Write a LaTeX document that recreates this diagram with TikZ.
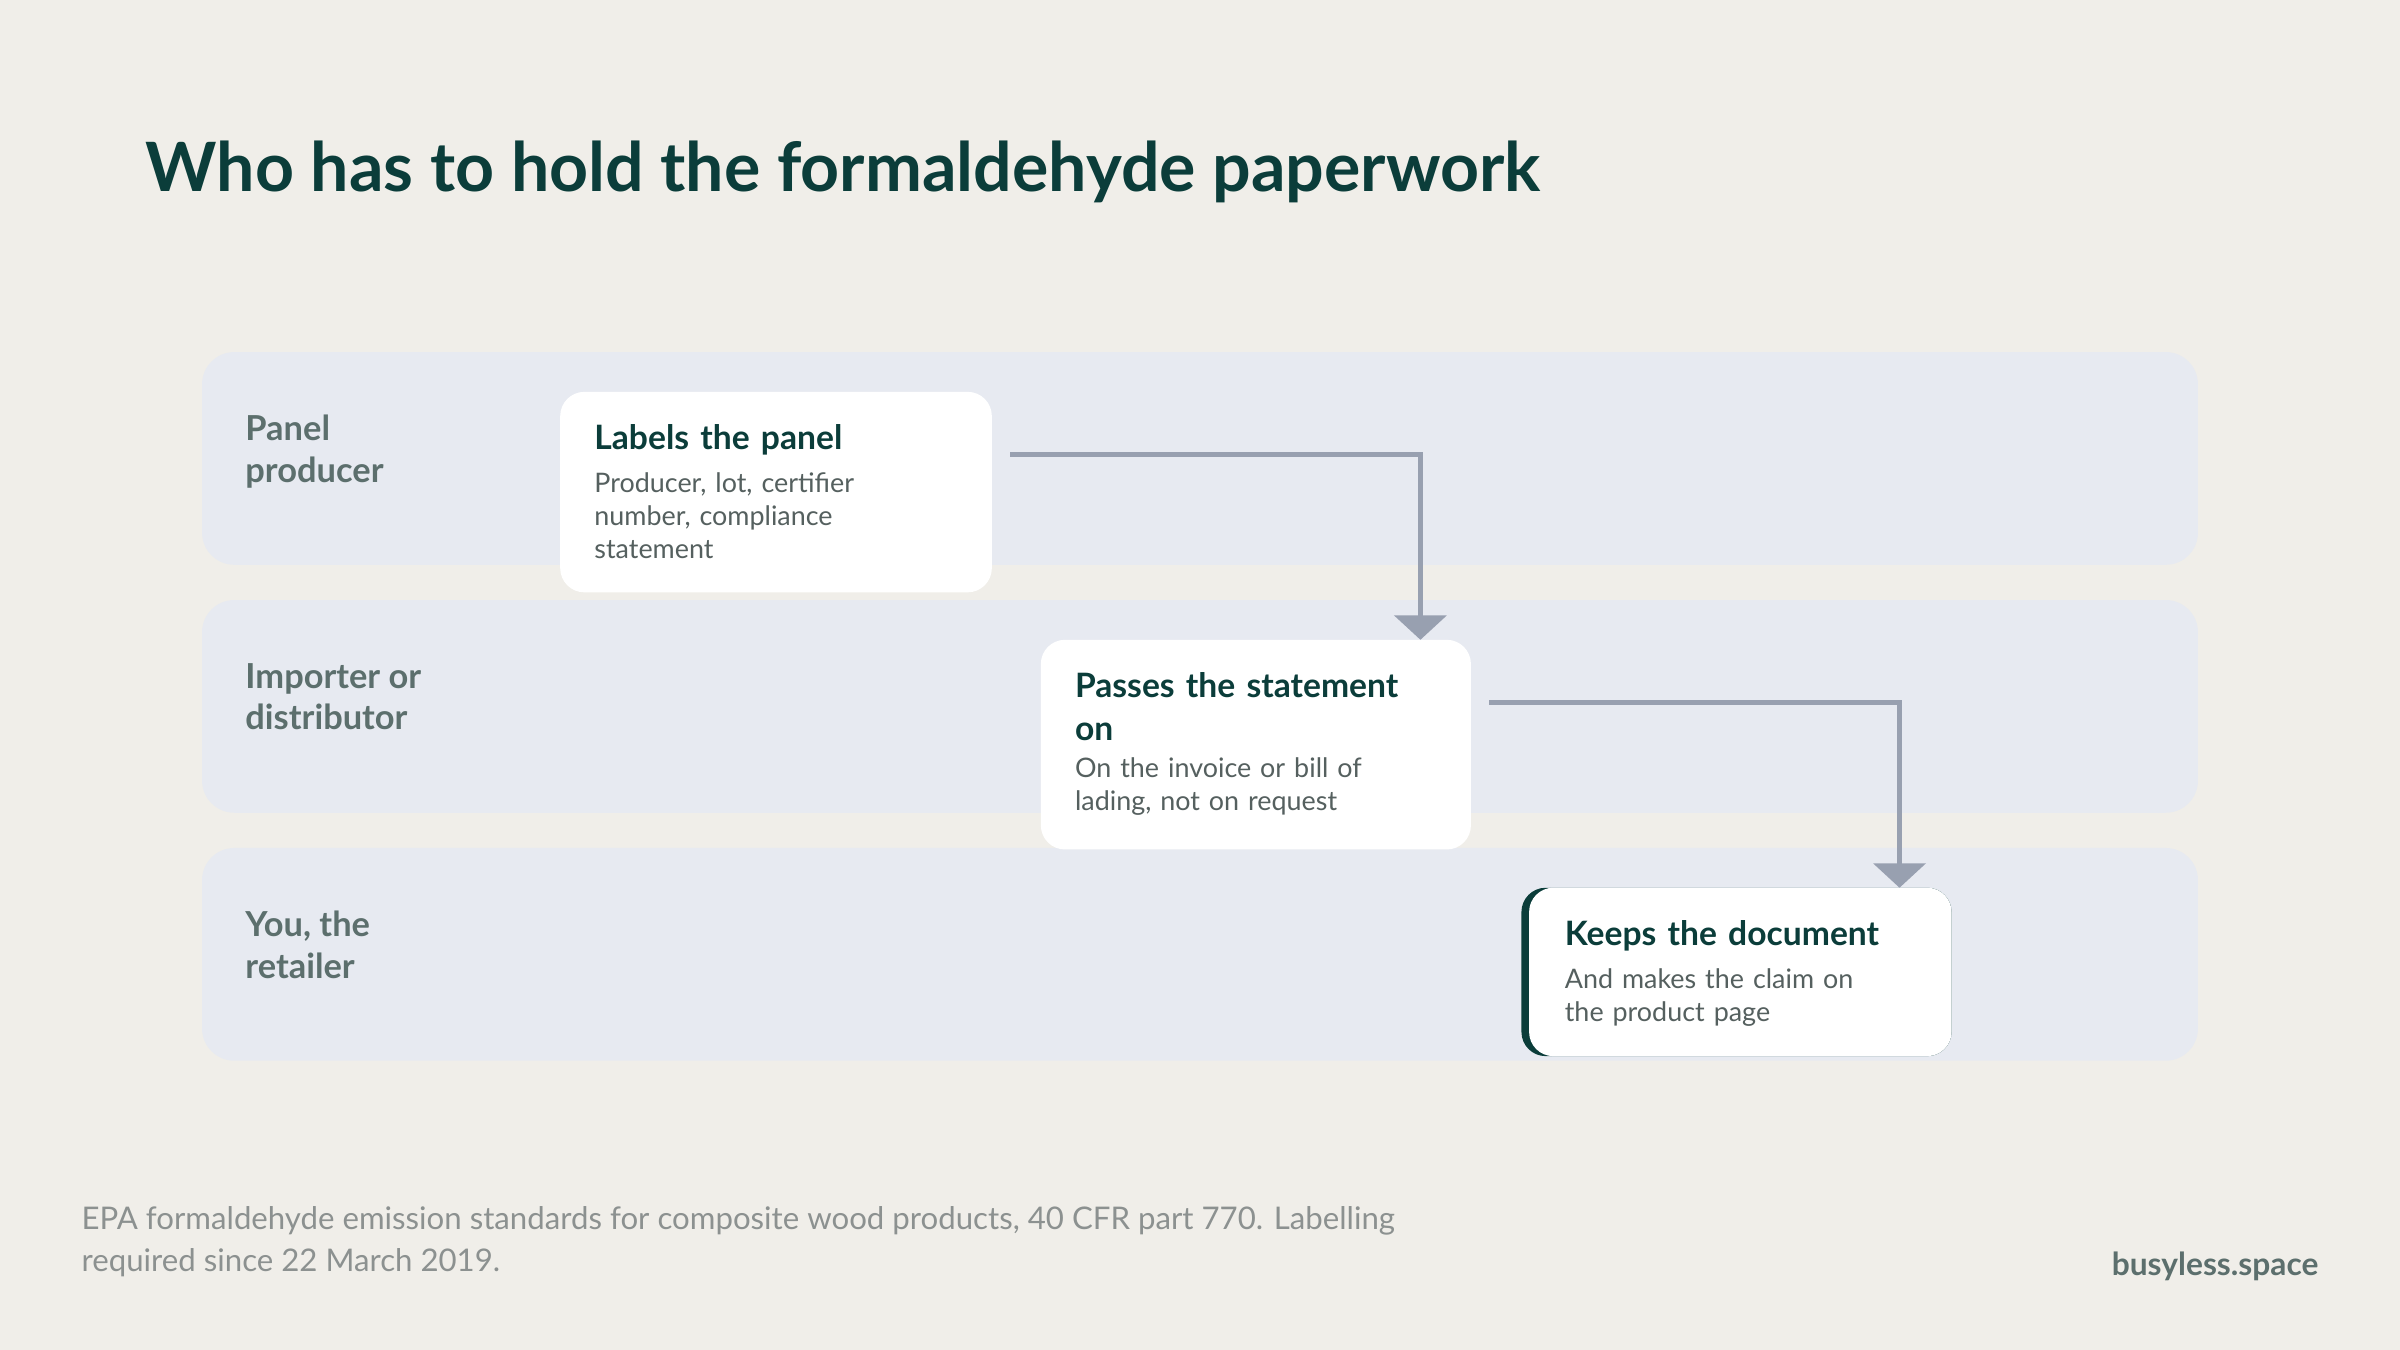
\documentclass[tikz,border=0pt]{standalone}
\usepackage{fontspec}
\setmainfont{Lato}
\usetikzlibrary{arrows.meta,positioning}
\definecolor{bg}{HTML}{F0EEE9}
\definecolor{lane}{HTML}{E7EAF1}
\definecolor{ink}{HTML}{0B3D3A}
\definecolor{lanetxt}{HTML}{5C6F6D}
\definecolor{body}{HTML}{55605F}
\definecolor{flowc}{HTML}{98A0B0}
\definecolor{foot}{HTML}{8C9190}
\begin{document}
\hyphenpenalty=10000
\begin{tikzpicture}[x=0.02cm,y=-0.02cm,
  lanebox/.style={fill=lane,rounded corners=12pt},
  lanelab/.style={anchor=north west,align=left,text=lanetxt,font=\fontsize{12.8}{15.5}\selectfont\bfseries,inner sep=0pt},
  card/.style={fill=white,rounded corners=9pt},
  ctitle/.style={anchor=north west,align=left,text width=125pt,text=ink,font=\fontsize{12.5}{16}\selectfont\bfseries,inner sep=0pt},
  cbody/.style={anchor=north west,align=left,text width=#1,text=body,font=\fontsize{10}{12.3}\selectfont,inner sep=0pt},
  cbody/.default=122pt,
  flow/.style={draw=flowc,line width=1.7pt,-{Triangle[width=34*0.02cm,length=16*0.02cm]}}]

% Hintergrund
\fill[bg] (0,0) rectangle (1568,882);
\useasboundingbox (0,0) rectangle (1568,882);

% Titel
\node[anchor=base west,inner sep=0pt,text=ink,font=\fontsize{25.3}{30}\selectfont\bfseries] (title) at (95,125) {Who has to hold the formaldehyde paperwork};

% Bahnen
\fill[lanebox] (132,230) rectangle (1436,369);
\fill[lanebox] (132,392) rectangle (1436,531);
\fill[lanebox] (132,554) rectangle (1436,693);
\node[lanelab] (producer) at (160,271) {Panel\\producer};
\node[lanelab] (importer) at (160,433) {Importer or\\distributor};
\node[lanelab] (retailer) at (160,595) {You, the\\retailer};

% Karten
\fill[card] (366,256) rectangle (648,387);
\node[ctitle] (labels) at (388,277) {Labels the panel};
\node[cbody=100pt,below=6pt of labels.south west,anchor=north west] (labelsb) {Producer, lot, certifier number, compliance statement};
\coordinate (labout) at (660,297);

\fill[card] (680,418) rectangle (961,555);
\coordinate (passin) at (928,418);
\node[ctitle] (passes) at (702,439) {Passes the statement on};
\node[cbody,below=6pt of passes.south west,anchor=north west] (passesb) {On the invoice or bill of lading, not on request};
\coordinate (passout) at (973,459);

\fill[ink,rounded corners=9pt] (994,580) rectangle (1275,690);
\fill[card] (999,580) rectangle (1275,690);
\coordinate (keepin) at (1241,580);
\node[ctitle] (keeps) at (1022,601) {Keeps the document};
\node[cbody=125pt,below=6pt of keeps.south west,anchor=north west] (keepsb) {And makes the claim on the product page};

% Weitergabe
\draw[flow] (labout) -| (passin);
\draw[flow] (passout) -| (keepin);

% Fusszeile
\node[anchor=north west,align=left,inner sep=0pt,text=foot,font=\fontsize{11.6}{15.5}\selectfont] (source) at (53,788) {EPA formaldehyde emission standards for composite wood products, 40 CFR part 770. Labelling\\required since 22 March 2019.};
\node[anchor=base east,inner sep=0pt,text=lanetxt,font=\fontsize{11.8}{13}\selectfont\bfseries] (brand) at (1515,833) {busyless.space};

\end{tikzpicture}
\end{document}
